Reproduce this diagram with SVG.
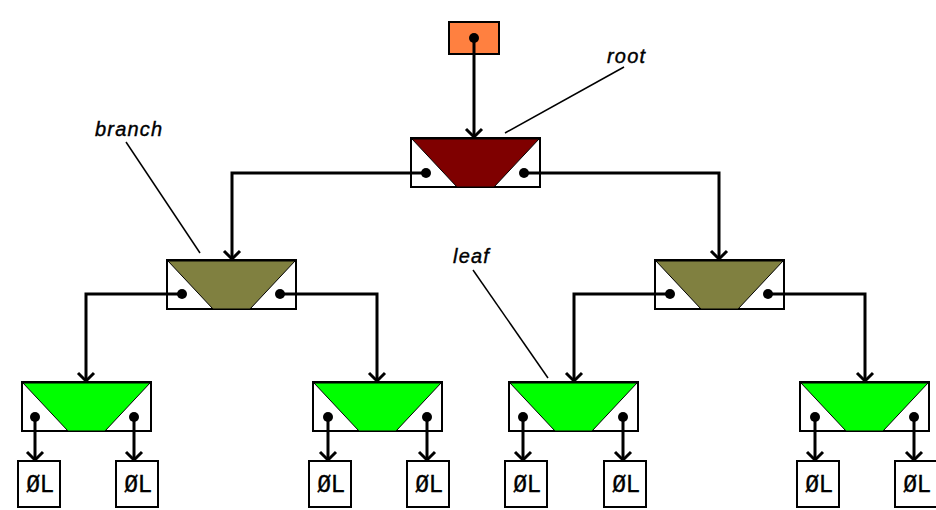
<svg xmlns="http://www.w3.org/2000/svg" width="936" height="510" viewBox="0 0 936 510">
  <style>
    .box { fill: #ffffff; stroke: #000000; stroke-width: 2; }
    .trap { stroke: #000000; stroke-width: 1; stroke-linejoin: miter; }
    .root-fill { fill: #7f0000; }
    .branch-fill { fill: #808040; }
    .leaf-fill { fill: #00ff00; }
    .src { fill: #ff8040; stroke: #000000; stroke-width: 2; }
    .wire { fill: none; stroke: #000000; stroke-width: 3; marker-start: url(#dot); marker-end: url(#head); }
    .lead { fill: none; stroke: #000000; stroke-width: 1.5; }
    .label { font-family: "Liberation Sans", Arial, sans-serif; font-style: italic; font-size: 20px; letter-spacing: 1.2px; fill: #000000; stroke: #000000; stroke-width: 0.4; }
    .nil { font-family: "DejaVu Sans Mono", "Liberation Mono", monospace; font-size: 23px; fill: #000000; stroke: #000000; stroke-width: 0.3; text-anchor: middle; }
  </style>
  <defs>
    <marker id="head" viewBox="-12 -10 14 20" markerWidth="14" markerHeight="20" refX="0" refY="0" orient="auto" markerUnits="userSpaceOnUse">
      <path d="M-9,-8 L-1,0 L-9,8" fill="none" stroke="#000000" stroke-width="3"/>
    </marker>
    <marker id="dot" viewBox="-6 -6 12 12" markerWidth="12" markerHeight="12" refX="0" refY="0" orient="auto" markerUnits="userSpaceOnUse">
      <circle cx="0" cy="0" r="5" fill="#000000"/>
    </marker>
    <!-- node shell: white box with a trapezoid leaving two white corner triangles -->
    <rect id="shell" class="box" x="0" y="0" width="129" height="49"/>
    <polygon id="trapezoid" points="1,1 128,1 83,49 46,49"/>
    <rect id="nilbox" class="box" x="0" y="0" width="42" height="46"/>
  </defs>

  <!-- tree nodes -->
  <g id="source">
    <rect class="src" x="449" y="22" width="50" height="32"/>
  </g>

  <g id="root" transform="translate(411,138)">
    <use href="#shell"/>
    <use href="#trapezoid" class="trap root-fill"/>
  </g>

  <g id="branch-left" transform="translate(167,260)">
    <use href="#shell"/>
    <use href="#trapezoid" class="trap branch-fill"/>
  </g>
  <g id="branch-right" transform="translate(655,260)">
    <use href="#shell"/>
    <use href="#trapezoid" class="trap branch-fill"/>
  </g>

  <g id="leaf-1" transform="translate(22,382)">
    <use href="#shell"/>
    <use href="#trapezoid" class="trap leaf-fill"/>
  </g>
  <g id="leaf-2" transform="translate(313,382)">
    <use href="#shell"/>
    <use href="#trapezoid" class="trap leaf-fill"/>
  </g>
  <g id="leaf-3" transform="translate(509,382)">
    <use href="#shell"/>
    <use href="#trapezoid" class="trap leaf-fill"/>
  </g>
  <g id="leaf-4" transform="translate(800,382)">
    <use href="#shell"/>
    <use href="#trapezoid" class="trap leaf-fill"/>
  </g>

  <!-- null terminators -->
  <g id="nil-1" transform="translate(18,461)"><use href="#nilbox"/><text class="nil" x="22" y="31">ØL</text></g>
  <g id="nil-2" transform="translate(116,461)"><use href="#nilbox"/><text class="nil" x="22" y="31">ØL</text></g>
  <g id="nil-3" transform="translate(309,461)"><use href="#nilbox"/><text class="nil" x="22" y="31">ØL</text></g>
  <g id="nil-4" transform="translate(407,461)"><use href="#nilbox"/><text class="nil" x="22" y="31">ØL</text></g>
  <g id="nil-5" transform="translate(505,461)"><use href="#nilbox"/><text class="nil" x="22" y="31">ØL</text></g>
  <g id="nil-6" transform="translate(604,461)"><use href="#nilbox"/><text class="nil" x="22" y="31">ØL</text></g>
  <g id="nil-7" transform="translate(797,461)"><use href="#nilbox"/><text class="nil" x="22" y="31">ØL</text></g>
  <g id="nil-8" transform="translate(895,461)"><use href="#nilbox"/><text class="nil" x="22" y="31">ØL</text></g>

  <!-- pointer connectors -->
  <g id="connectors">
    <path class="wire" d="M474,38 V138"/>
    <path class="wire" d="M426,173 H232 V260"/>
    <path class="wire" d="M524,173 H719 V260"/>
    <path class="wire" d="M182,294 H86 V382"/>
    <path class="wire" d="M280,294 H377 V382"/>
    <path class="wire" d="M670,294 H574 V382"/>
    <path class="wire" d="M768,294 H865 V382"/>
    <path class="wire" d="M35,417 V461"/>
    <path class="wire" d="M134,417 V461"/>
    <path class="wire" d="M328,417 V461"/>
    <path class="wire" d="M427,417 V461"/>
    <path class="wire" d="M523,417 V461"/>
    <path class="wire" d="M623,417 V461"/>
    <path class="wire" d="M815,417 V461"/>
    <path class="wire" d="M914,417 V461"/>
  </g>

  <!-- callout labels -->
  <g id="labels">
    <path class="lead" d="M624,67 L505,133"/>
    <text class="label" x="607" y="63">root</text>
    <path class="lead" d="M126,142 L200,253"/>
    <text class="label" x="95" y="136">branch</text>
    <path class="lead" d="M473,270 L548,378"/>
    <text class="label" x="453" y="263">leaf</text>
  </g>
</svg>
